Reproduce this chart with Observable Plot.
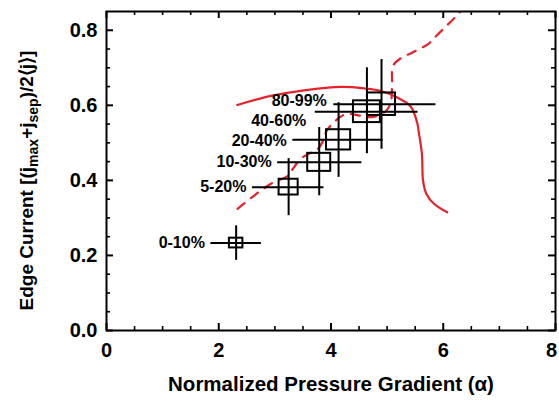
<!DOCTYPE html>
<html>
<head>
<meta charset="utf-8">
<script src="https://cdn.jsdelivr.net/npm/d3@7"></script>
<script src="https://cdn.jsdelivr.net/npm/@observablehq/plot@0.6"></script>
<style>
  html, body { margin: 0; padding: 0; background: #fff; }
  #chart svg { display: block; }
</style>
</head>
<body>
<div id="chart"></div>
<script>
// ---- data ----
const labels = ["0-10%", "5-20%", "10-30%", "20-40%", "40-60%", "80-99%"];
const alpha = [2.31, 3.245, 3.79, 4.135, 4.64, 4.90];
const current = [0.233, 0.382, 0.448, 0.508, 0.583, 0.603];
const alphaLo = [1.86, 2.60, 3.05, 3.32, 3.72, 4.05];
const alphaHi = [2.76, 3.875, 4.55, 4.93, 5.55, 5.87];
const currentLo = [0.187, 0.306, 0.359, 0.408, 0.471, 0.483];
const currentHi = [0.279, 0.458, 0.541, 0.607, 0.700, 0.722];
const boxHalfAlpha = [0.12, 0.17, 0.205, 0.215, 0.24, 0.25];
const boxHalfCurrent = [0.013, 0.021, 0.024, 0.027, 0.029, 0.030];

const solidAlpha = [2.33, 2.93, 3.52, 4.18, 4.59, 4.89, 5.19, 5.42, 5.54, 5.56, 5.62, 5.64, 5.70, 5.84, 6.07];
const solidCurrent = [0.601, 0.625, 0.640, 0.649, 0.645, 0.638, 0.620, 0.597, 0.551, 0.532, 0.470, 0.399, 0.364, 0.337, 0.315];

const dashAlpha = [2.335, 2.626, 2.930, 3.233, 3.322, 3.465, 3.608, 3.768, 3.858, 3.92, 4.03, 4.15, 4.267, 4.535, 4.749, 4.981, 5.069, 5.087, 5.105, 5.248, 5.426, 5.569, 5.730, 5.837, 5.998, 6.141, 6.266, 6.355];
const dashCurrent = [0.324, 0.359, 0.391, 0.412, 0.431, 0.458, 0.471, 0.484, 0.505, 0.531, 0.552, 0.567, 0.577, 0.572, 0.569, 0.585, 0.612, 0.657, 0.705, 0.726, 0.739, 0.750, 0.763, 0.779, 0.803, 0.824, 0.843, 0.859];

const xTicks = [0, 2, 4, 6, 8];
const xMinorTicks = [0.5, 1, 1.5, 2.5, 3, 3.5, 4.5, 5, 5.5, 6.5, 7, 7.5];
const yTicks = [0, 0.2, 0.4, 0.6, 0.8];
const yMinorTicks = [0.05, 0.1, 0.15, 0.25, 0.3, 0.35, 0.45, 0.5, 0.55, 0.65, 0.7, 0.75];

const xTitle = "Normalized Pressure Gradient (\u03B1)";

// ---- build tables ----
const points = labels.map((l, i) => ({
  label: l, a: alpha[i], c: current[i],
  aLo: alphaLo[i], aHi: alphaHi[i], cLo: currentLo[i], cHi: currentHi[i],
  bx1: alpha[i] - boxHalfAlpha[i], bx2: alpha[i] + boxHalfAlpha[i],
  by1: current[i] - boxHalfCurrent[i], by2: current[i] + boxHalfCurrent[i]
}));
const solid = solidAlpha.map((a, i) => ({a, c: solidCurrent[i]}));
const dashed = dashAlpha.map((a, i) => ({a, c: dashCurrent[i]}));

// label nudges (style only)
const labelDx = {"40-60%": -3, "80-99%": -1};
const labelDy = {"20-40%": 1, "40-60%": 9, "80-99%": -3};

const W = 559, H = 404, mL = 106, mR = 4, mT = 11, mB = 74;
const fw = W - mL - mR, fh = H - mT - mB;
const red = "#e5222a";
const major = 7, minor = 4;

const marks = [
  // curves
  Plot.line(solid, {x: "a", y: "c", stroke: red, strokeWidth: 2.2, curve: "catmull-rom"}),
  Plot.line(dashed, {x: "a", y: "c", stroke: red, strokeWidth: 2.2, strokeDasharray: "9,8", curve: "catmull-rom", clip: true}),
  // error bars
  Plot.ruleY(points, {y: "c", x1: "aLo", x2: "aHi", stroke: "black", strokeWidth: 2}),
  Plot.ruleX(points, {x: "a", y1: "cLo", y2: "cHi", stroke: "black", strokeWidth: 2}),
  // boxes
  Plot.rect(points, {x1: "bx1", x2: "bx2", y1: "by1", y2: "by2", fill: "none", stroke: "black", strokeWidth: 2}),
  // ticks (inward)
  Plot.tickX(xTicks, {x: d => d, insetTop: fh - major, stroke: "black", strokeWidth: 2}),
  Plot.tickX(xTicks, {x: d => d, insetBottom: fh - major, stroke: "black", strokeWidth: 2}),
  Plot.tickX(xMinorTicks, {x: d => d, insetTop: fh - minor, stroke: "black", strokeWidth: 1.6}),
  Plot.tickX(xMinorTicks, {x: d => d, insetBottom: fh - minor, stroke: "black", strokeWidth: 1.6}),
  Plot.tickY(yTicks, {y: d => d, insetRight: fw - major, stroke: "black", strokeWidth: 2}),
  Plot.tickY(yTicks, {y: d => d, insetLeft: fw - major, stroke: "black", strokeWidth: 2}),
  Plot.tickY(yMinorTicks, {y: d => d, insetRight: fw - minor, stroke: "black", strokeWidth: 1.6}),
  Plot.tickY(yMinorTicks, {y: d => d, insetLeft: fw - minor, stroke: "black", strokeWidth: 1.6}),
  Plot.frame({stroke: "black", strokeWidth: 2}),
  // axes labels
  Plot.axisX(xTicks, {tickSize: 0, tickPadding: 12, label: null, fontSize: 20, fontWeight: "bold"}),
  Plot.axisY(yTicks, {tickSize: 0, tickPadding: 9, label: null, fontSize: 20, fontWeight: "bold", tickFormat: d3.format(".1f")}),
  Plot.text([xTitle], {text: d => d, frameAnchor: "bottom", dy: 60, fontSize: 20.5, fontWeight: "bold", fill: "black"}),
  // point labels
  Plot.text(points, {x: "aLo", y: "c", text: "label", textAnchor: "end",
    dx: -6, fontSize: 16, fontWeight: "bold", fill: "black"})
];

const chart = Plot.plot({
  width: W, height: H,
  marginLeft: mL, marginRight: mR, marginTop: mT, marginBottom: mB,
  x: {domain: [0, 8]},
  y: {domain: [0, 0.85]},
  style: {fontFamily: "'Liberation Sans', Arial, Helvetica, sans-serif", fontWeight: "bold", fontSize: "20px", color: "black", background: "white", overflow: "visible"},
  marks
});

// apply label nudges
d3.select(chart).selectAll("text").each(function() {
  const t = this.textContent;
  let ddx = 0, ddy = 0;
  if (t in labelDx || t in labelDy) { ddx = labelDx[t] || 0; ddy = labelDy[t] || 0; }
  if (t === "8") ddx = -4;
  if (ddx || ddy) {
    const tr = this.getAttribute("transform") || "";
    this.setAttribute("transform", tr + ` translate(${ddx},${ddy})`);
  }
});

// y-axis title with subscripts
const yt = d3.select(chart).append("text")
  .attr("transform", `translate(33,${mT + fh / 2 + 10}) rotate(-90)`)
  .attr("text-anchor", "middle")
  .attr("fill", "black")
  .style("font-family", "'Liberation Sans', Arial, Helvetica, sans-serif")
  .style("font-weight", "bold")
  .style("font-size", "19px");
yt.append("tspan").text("Edge Current [(j");
yt.append("tspan").attr("dy", 5).style("font-size", "14px").text("max");
yt.append("tspan").attr("dy", -5).text("+j");
yt.append("tspan").attr("dy", 5).style("font-size", "14px").text("sep");
yt.append("tspan").attr("dy", -5).text(")/2\u27E8j\u27E9]");

document.getElementById("chart").appendChild(chart);
</script>
</body>
</html>
